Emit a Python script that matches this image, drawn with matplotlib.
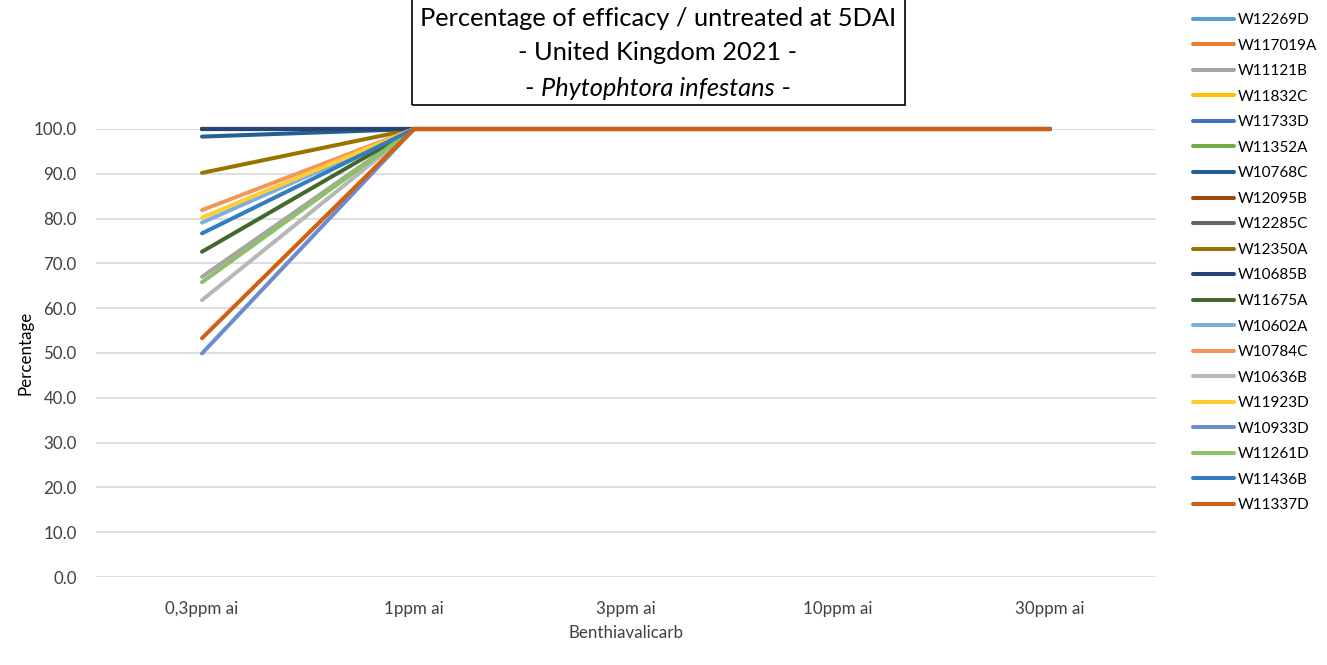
import matplotlib.pyplot as plt
from matplotlib.patches import Rectangle

plt.rcParams['font.family'] = ['Lato', 'DejaVu Sans']

# Doses of Benthiavalicarb tested
doses = ["0,3ppm ai", "1ppm ai", "3ppm ai", "10ppm ai", "30ppm ai"]

# Isolates in legend order, with their Excel colours
isolates = ["W12269D", "W117019A", "W11121B", "W11832C", "W11733D",
            "W11352A", "W10768C", "W12095B", "W12285C", "W12350A",
            "W10685B", "W11675A", "W10602A", "W10784C", "W10636B",
            "W11923D", "W10933D", "W11261D", "W11436B", "W11337D"]
colors = ["#5B9BD5", "#ED7D31", "#A5A5A5", "#FFC000", "#4472C4",
          "#70AD47", "#255E91", "#9E480E", "#636363", "#997300",
          "#264478", "#43682B", "#7CAFDD", "#F1975A", "#B7B7B7",
          "#FFCD33", "#698ED0", "#8CC168", "#327DC2", "#D26012"]

# efficacy (%) at 0.3ppm; every isolate reaches 100 from 1ppm onwards
low_dose = [100.0, 100.0, 67.0, 100.0, 100.0,
            100.0, 98.3, 100.0, 100.0, 90.2,
            100.0, 72.6, 79.1, 81.9, 61.8,
            80.2, 49.9, 65.8, 76.7, 53.3]
high_doses = [100.0, 100.0, 100.0, 100.0]

fig = plt.figure(figsize=(13.27, 6.65), dpi=100)
ax = fig.add_axes([96 / 1327, 1 - 577 / 665, (1156 - 96) / 1327, (577 - 129) / 665])

x = list(range(len(doses)))
for name, col, v in zip(isolates, colors, low_dose):
    ax.plot(x, [v] + high_doses, color=col, lw=2.9, label=name,
            solid_capstyle='round', clip_on=False, zorder=3)

ax.set_xlim(-0.5, len(doses) - 0.5)
ax.set_ylim(0, 100)
ax.set_yticks(range(0, 101, 10))
ax.set_yticklabels([f"{t:.1f}" for t in range(0, 101, 10)])
ax.set_xticks(x)
ax.set_xticklabels(doses)
ax.tick_params(length=0, labelsize=12.2, colors="#404040")
ax.tick_params(axis='y', pad=14)
ax.tick_params(axis='x', pad=17)
ax.grid(axis='y', color="#D9D9D9", lw=1.2)
ax.set_axisbelow(True)
for s in ax.spines.values():
    s.set_visible(False)
ax.set_xlabel("Benthiavalicarb", fontsize=12.2, color="#404040", labelpad=6)
ax.set_ylabel("Percentage", fontsize=12.2, color="#000000", labelpad=0)

# title box
fig.patches.append(Rectangle((412 / 1327, 1 - 105 / 665), (905 - 412) / 1327, 110 / 665,
                             transform=fig.transFigure, fill=False,
                             edgecolor="black", lw=1.2))
cx = 658 / 1327
fs = 18.3
fig.text(cx, 1 - 18 / 665, "Percentage of efficacy / untreated at 5DAI",
         ha='center', va='center', fontsize=fs)
fig.text(cx, 1 - 52 / 665, "- United Kingdom 2021 -",
         ha='center', va='center', fontsize=fs)
t3 = fig.text(cx, 1 - 88 / 665, "Phytophtora infestans",
              ha='center', va='center', fontsize=fs, style='italic')
fig.canvas.draw()
bb = t3.get_window_extent().transformed(fig.transFigure.inverted())
fig.text(bb.x0, 1 - 88 / 665, "- ", ha='right', va='center', fontsize=fs)
fig.text(bb.x1, 1 - 88 / 665, " -", ha='left', va='center', fontsize=fs)

fig.legend(loc='upper left', bbox_to_anchor=(1187 / 1327, 1 - 7 / 665),
           frameon=False, fontsize=11, handlelength=2.7, handletextpad=0.25,
           labelspacing=0.755, borderaxespad=0)

fig.savefig("out.png", dpi=100)
